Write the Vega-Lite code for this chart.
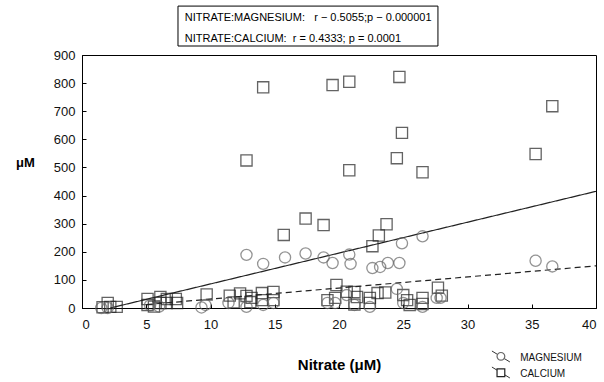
{
  "$schema": "https://vega.github.io/schema/vega-lite/v6.json",
  "width": 514,
  "height": 253,
  "autosize": {"type": "none"},
  "padding": {"left": 82, "top": 55, "right": 8, "bottom": 74},
  "background": "white",
  "config": {
    "font": "Liberation Sans",
    "view": {"stroke": "#000", "strokeWidth": 1},
    "axis": {"grid": false, "domainColor": "#000", "tickColor": "#000", "labelColor": "#111", "labelFont": "Liberation Sans", "labelFontSize": 13, "titleFont": "Liberation Sans", "titleColor": "#000", "labelOverlap": false, "labelBound": false, "tickSize": -4},
    "axisX": {"tickCount": 8, "labelPadding": 14},
    "axisY": {"tickCount": 10, "labelPadding": 11}
  },
  "datasets": {
    "points": [
      {"ion": "CALCIUM", "nitrate": 12.8, "um": 525},
      {"ion": "CALCIUM", "nitrate": 14.1, "um": 785},
      {"ion": "CALCIUM", "nitrate": 15.7, "um": 260},
      {"ion": "CALCIUM", "nitrate": 17.4, "um": 318},
      {"ion": "CALCIUM", "nitrate": 18.8, "um": 295},
      {"ion": "CALCIUM", "nitrate": 19.5, "um": 793},
      {"ion": "CALCIUM", "nitrate": 20.8, "um": 805},
      {"ion": "CALCIUM", "nitrate": 20.8, "um": 490},
      {"ion": "CALCIUM", "nitrate": 22.6, "um": 220},
      {"ion": "CALCIUM", "nitrate": 23.1, "um": 258},
      {"ion": "CALCIUM", "nitrate": 23.7, "um": 298},
      {"ion": "CALCIUM", "nitrate": 24.5, "um": 533},
      {"ion": "CALCIUM", "nitrate": 24.7, "um": 822},
      {"ion": "CALCIUM", "nitrate": 24.9, "um": 623},
      {"ion": "CALCIUM", "nitrate": 26.5, "um": 483},
      {"ion": "CALCIUM", "nitrate": 35.3, "um": 548},
      {"ion": "CALCIUM", "nitrate": 36.6, "um": 718},
      {"ion": "CALCIUM", "nitrate": 1.6, "um": 3},
      {"ion": "CALCIUM", "nitrate": 2.0, "um": 18},
      {"ion": "CALCIUM", "nitrate": 2.2, "um": 4},
      {"ion": "CALCIUM", "nitrate": 2.7, "um": 4},
      {"ion": "CALCIUM", "nitrate": 5.1, "um": 32},
      {"ion": "CALCIUM", "nitrate": 5.1, "um": 11},
      {"ion": "CALCIUM", "nitrate": 5.6, "um": 5},
      {"ion": "CALCIUM", "nitrate": 6.1, "um": 39},
      {"ion": "CALCIUM", "nitrate": 6.1, "um": 18},
      {"ion": "CALCIUM", "nitrate": 6.6, "um": 32},
      {"ion": "CALCIUM", "nitrate": 6.6, "um": 18},
      {"ion": "CALCIUM", "nitrate": 7.3, "um": 32},
      {"ion": "CALCIUM", "nitrate": 7.4, "um": 18},
      {"ion": "CALCIUM", "nitrate": 9.7, "um": 48},
      {"ion": "CALCIUM", "nitrate": 11.5, "um": 44},
      {"ion": "CALCIUM", "nitrate": 11.8, "um": 20},
      {"ion": "CALCIUM", "nitrate": 12.3, "um": 52},
      {"ion": "CALCIUM", "nitrate": 12.8, "um": 43},
      {"ion": "CALCIUM", "nitrate": 13.2, "um": 36},
      {"ion": "CALCIUM", "nitrate": 13.1, "um": 21},
      {"ion": "CALCIUM", "nitrate": 14.0, "um": 53},
      {"ion": "CALCIUM", "nitrate": 14.9, "um": 57},
      {"ion": "CALCIUM", "nitrate": 14.0, "um": 28},
      {"ion": "CALCIUM", "nitrate": 14.9, "um": 28},
      {"ion": "CALCIUM", "nitrate": 19.8, "um": 82},
      {"ion": "CALCIUM", "nitrate": 19.7, "um": 36},
      {"ion": "CALCIUM", "nitrate": 19.1, "um": 28},
      {"ion": "CALCIUM", "nitrate": 20.6, "um": 58},
      {"ion": "CALCIUM", "nitrate": 21.2, "um": 57},
      {"ion": "CALCIUM", "nitrate": 21.4, "um": 39},
      {"ion": "CALCIUM", "nitrate": 21.2, "um": 12},
      {"ion": "CALCIUM", "nitrate": 22.4, "um": 36},
      {"ion": "CALCIUM", "nitrate": 22.4, "um": 18},
      {"ion": "CALCIUM", "nitrate": 23.0, "um": 53},
      {"ion": "CALCIUM", "nitrate": 23.6, "um": 55},
      {"ion": "CALCIUM", "nitrate": 25.0, "um": 46},
      {"ion": "CALCIUM", "nitrate": 25.3, "um": 28},
      {"ion": "CALCIUM", "nitrate": 25.5, "um": 11},
      {"ion": "CALCIUM", "nitrate": 26.5, "um": 36},
      {"ion": "CALCIUM", "nitrate": 26.5, "um": 14},
      {"ion": "CALCIUM", "nitrate": 27.7, "um": 72},
      {"ion": "CALCIUM", "nitrate": 28.0, "um": 44},
      {"ion": "MAGNESIUM", "nitrate": 12.8, "um": 189},
      {"ion": "MAGNESIUM", "nitrate": 14.1, "um": 157},
      {"ion": "MAGNESIUM", "nitrate": 15.8, "um": 180},
      {"ion": "MAGNESIUM", "nitrate": 17.4, "um": 194},
      {"ion": "MAGNESIUM", "nitrate": 18.8, "um": 180},
      {"ion": "MAGNESIUM", "nitrate": 19.5, "um": 160},
      {"ion": "MAGNESIUM", "nitrate": 20.8, "um": 190},
      {"ion": "MAGNESIUM", "nitrate": 20.9, "um": 157},
      {"ion": "MAGNESIUM", "nitrate": 22.6, "um": 142},
      {"ion": "MAGNESIUM", "nitrate": 23.2, "um": 146},
      {"ion": "MAGNESIUM", "nitrate": 23.8, "um": 160},
      {"ion": "MAGNESIUM", "nitrate": 24.7, "um": 160},
      {"ion": "MAGNESIUM", "nitrate": 24.9, "um": 230},
      {"ion": "MAGNESIUM", "nitrate": 26.5, "um": 255},
      {"ion": "MAGNESIUM", "nitrate": 35.3, "um": 168},
      {"ion": "MAGNESIUM", "nitrate": 36.6, "um": 148},
      {"ion": "MAGNESIUM", "nitrate": 1.5, "um": 0},
      {"ion": "MAGNESIUM", "nitrate": 2.0, "um": 0},
      {"ion": "MAGNESIUM", "nitrate": 5.3, "um": 10},
      {"ion": "MAGNESIUM", "nitrate": 6.0, "um": 5},
      {"ion": "MAGNESIUM", "nitrate": 9.3, "um": 2},
      {"ion": "MAGNESIUM", "nitrate": 9.6, "um": 11},
      {"ion": "MAGNESIUM", "nitrate": 11.4, "um": 18},
      {"ion": "MAGNESIUM", "nitrate": 12.8, "um": 4},
      {"ion": "MAGNESIUM", "nitrate": 14.1, "um": 11},
      {"ion": "MAGNESIUM", "nitrate": 14.9, "um": 18},
      {"ion": "MAGNESIUM", "nitrate": 19.1, "um": 18},
      {"ion": "MAGNESIUM", "nitrate": 19.7, "um": 18},
      {"ion": "MAGNESIUM", "nitrate": 20.6, "um": 46},
      {"ion": "MAGNESIUM", "nitrate": 21.2, "um": 11},
      {"ion": "MAGNESIUM", "nitrate": 22.4, "um": 4},
      {"ion": "MAGNESIUM", "nitrate": 24.5, "um": 68},
      {"ion": "MAGNESIUM", "nitrate": 25.0, "um": 18},
      {"ion": "MAGNESIUM", "nitrate": 26.5, "um": 4},
      {"ion": "MAGNESIUM", "nitrate": 27.6, "um": 36},
      {"ion": "MAGNESIUM", "nitrate": 27.9, "um": 36}
    ],
    "fits": [
      {"fit": "CALCIUM", "nitrate": 2.2, "um": 0},
      {"fit": "CALCIUM", "nitrate": 40, "um": 415},
      {"fit": "MAGNESIUM", "nitrate": 5, "um": 12},
      {"fit": "MAGNESIUM", "nitrate": 40, "um": 150}
    ]
  },
  "layer": [
    {
      "data": {"name": "fits"},
      "mark": {"type": "line", "strokeWidth": 1.2, "color": "#222"},
      "encoding": {
        "x": {"field": "nitrate", "type": "quantitative", "scale": {"domain": [0, 40], "nice": false, "zero": false},
          "axis": {"title": "Nitrate (μM)", "titleFontSize": 15, "titleFontWeight": "bold", "titleY": 56, "titleBaseline": "middle"}},
        "y": {"field": "um", "type": "quantitative", "scale": {"domain": [0, 900], "nice": false},
          "axis": {"title": "μM", "titleAngle": 0, "titleFontSize": 13, "titleFontWeight": "bold", "titleX": -57, "titleY": 107, "titleAlign": "center", "titleBaseline": "middle"}},
        "detail": {"field": "fit"},
        "strokeDash": {"field": "fit", "type": "nominal", "scale": {"domain": ["MAGNESIUM", "CALCIUM"], "range": [[6, 4], [1, 0]]}, "legend": null}
      }
    },
    {
      "data": {"name": "points"},
      "mark": {"type": "point", "filled": false, "strokeWidth": 1.3, "size": 125},
      "encoding": {
        "x": {"field": "nitrate", "type": "quantitative"},
        "y": {"field": "um", "type": "quantitative"},
        "shape": {"field": "ion", "type": "nominal", "scale": {"domain": ["MAGNESIUM", "CALCIUM"], "range": ["circle", "square"]}, "legend": null},
        "stroke": {"field": "ion", "type": "nominal", "scale": {"domain": ["MAGNESIUM", "CALCIUM"], "range": ["#666", "#222"]}, "legend": null}
      }
    },
    {
      "data": {"values": [{}]},
      "mark": {"type": "rect", "fill": "white", "stroke": "#000", "strokeWidth": 1},
      "encoding": {
        "x": {"datum": 7.47, "type": "quantitative"},
        "x2": {"datum": 27.7},
        "y": {"datum": 1074, "type": "quantitative"},
        "y2": {"datum": 932}
      }
    },
    {
      "data": {"values": [{}]},
      "mark": {"type": "text", "align": "left", "baseline": "middle", "fontSize": 11, "font": "Liberation Sans", "color": "#000", "lineHeight": 21,
        "text": ["NITRATE:MAGNESIUM:\u00a0\u00a0\u00a0r − 0.5055;p − 0.000001", "NITRATE:CALCIUM:\u00a0\u00a0r = 0.4333; p = 0.0001"]},
      "encoding": {
        "x": {"datum": 8.0, "type": "quantitative"},
        "y": {"datum": 1032, "type": "quantitative"}
      }
    },
    {
      "data": {"values": [{}]},
      "mark": {"type": "rule", "color": "#333", "strokeWidth": 1},
      "encoding": {
        "x": {"datum": 31.9, "type": "quantitative"}, "x2": {"datum": 33.3},
        "y": {"datum": -153, "type": "quantitative"}, "y2": {"datum": -192}
      }
    },
    {
      "data": {"values": [{}]},
      "mark": {"type": "rule", "color": "#333", "strokeWidth": 1},
      "encoding": {
        "x": {"datum": 31.9, "type": "quantitative"}, "x2": {"datum": 33.3},
        "y": {"datum": -210, "type": "quantitative"}, "y2": {"datum": -249}
      }
    },
    {
      "data": {"values": [{"ion": "MAGNESIUM"}]},
      "mark": {"type": "point", "filled": false, "fill": "white", "fillOpacity": 1, "strokeWidth": 1.2, "size": 60},
      "encoding": {
        "x": {"datum": 32.6, "type": "quantitative"},
        "y": {"datum": -172, "type": "quantitative"},
        "shape": {"field": "ion", "type": "nominal", "legend": null},
        "stroke": {"field": "ion", "type": "nominal", "legend": null}
      }
    },
    {
      "data": {"values": [{"ion": "CALCIUM"}]},
      "mark": {"type": "point", "filled": false, "fill": "white", "fillOpacity": 1, "strokeWidth": 1.2, "size": 60},
      "encoding": {
        "x": {"datum": 32.6, "type": "quantitative"},
        "y": {"datum": -230, "type": "quantitative"},
        "shape": {"field": "ion", "type": "nominal", "legend": null},
        "stroke": {"field": "ion", "type": "nominal", "legend": null}
      }
    },
    {
      "data": {"values": [{}]},
      "mark": {"type": "text", "align": "left", "baseline": "middle", "fontSize": 10, "font": "Liberation Sans", "color": "#111", "lineHeight": 16,
        "text": ["MAGNESIUM", "CALCIUM"]},
      "encoding": {
        "x": {"datum": 34.1, "type": "quantitative"},
        "y": {"datum": -178, "type": "quantitative"}
      }
    }
  ]
}
